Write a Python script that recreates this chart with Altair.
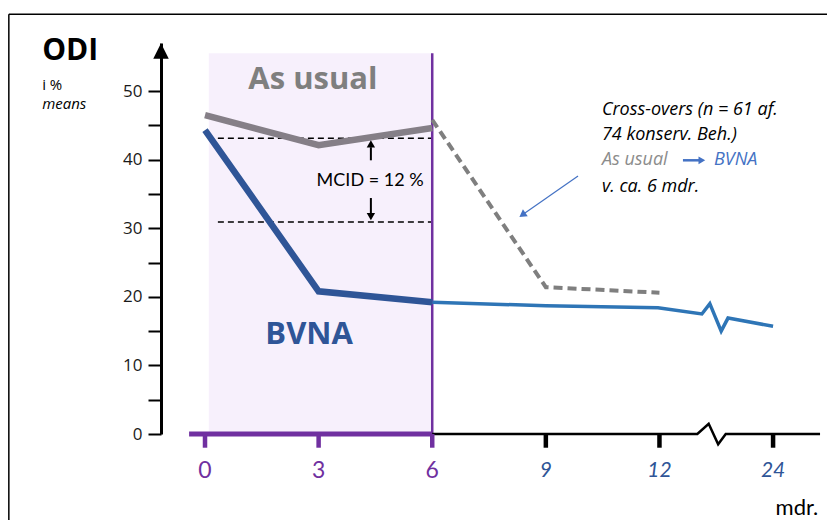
import altair as alt
import pandas as pd

# ---------------- data ----------------
usual_x = [0, 3, 6]
usual_y = [46.5, 42.1, 44.6]
cross_x = [6, 9, 12]
cross_y = [45.8, 21.4, 20.6]
bvna_x = [0, 3, 6]
bvna_y = [44.3, 20.8, 19.2]
follow_x = [6, 9, 11.96, 13.12, 13.33, 13.63, 13.81, 15]
follow_y = [19.2, 18.7, 18.4, 17.5, 19.0, 15.0, 16.9, 15.7]
tick_pos = [0, 3, 6, 9, 12, 15]
tick_labels = ["0", "3", "6", "9", "12", "24"]
y_tick_values = [0, 5, 10, 15, 20, 25, 30, 35, 40, 45, 50]
mcid_levels = [43.1, 30.9]
axis_break_x = [6, 13.0, 13.3, 13.55, 13.75, 16.24]
axis_break_y = [0, 0, 1.5, -1.5, 0, 0]
cross_lines = ["Cross-overs (n = 61 af.", "74 konserv. Beh.)", "", "v. ca. 6 mdr."]
cross_line_y = [47.2, 43.6, 39.9, 36.0]

# ---------------- styling ----------------
XMIN, XMAX = -1.162, 16.424
YMIN, YMAX = 0, 57
PURPLE = "#7030A0"
GRAY = "#857F87"
DBLUE = "#2F5597"
MBLUE = "#2E75B6"
LBLUE = "#4472C4"
FONT = "Lato"
SANS = "Open Sans"

xs = alt.Scale(domain=[XMIN, XMAX], nice=False, zero=False)
ys = alt.Scale(domain=[YMIN, YMAX], nice=False, zero=False)
yaxis = alt.Axis(values=y_tick_values, title=None, grid=False,
                 labelExpr="datum.value % 10 === 0 ? datum.label : ''",
                 domainColor="black", domainWidth=3, tickColor="black",
                 tickWidth=2, tickSize=13, labelFontSize=17, labelFont=SANS,
                 labelColor="#1a1a1a", labelPadding=6)


def X(f):
    return alt.X(f, type="quantitative", scale=xs, axis=None)


def Y(f):
    return alt.Y(f, type="quantitative", scale=ys, axis=yaxis)


def line_df(xv, yv):
    return pd.DataFrame({"x": xv, "y": yv, "i": list(range(len(xv)))})


layers = []

# shaded band (0..6 months)
shade = pd.DataFrame({"x": [0.1], "x2": [6], "y": [0], "y2": [55.5]})
layers.append(alt.Chart(shade).mark_rect(color="#F7F0FC").encode(
    x=X("x"), x2="x2", y=Y("y"), y2="y2"))

# MCID dashed reference lines
mc = pd.DataFrame({"x": [0.34] * 2, "x2": [6] * 2, "y": mcid_levels})
layers.append(alt.Chart(mc).mark_rule(color="black", strokeWidth=1.5, strokeDash=[6, 4]).encode(
    x=X("x"), x2="x2", y=Y("y")))

# purple vertical line at 6 months
pv = pd.DataFrame({"x": [6], "y": [0], "y2": [55.5]})
layers.append(alt.Chart(pv).mark_rule(color=PURPLE, strokeWidth=2.5).encode(
    x=X("x"), y=Y("y"), y2="y2"))

# data lines
layers.append(alt.Chart(line_df(cross_x, cross_y)).mark_line(
    color="#7F7F7F", strokeWidth=4, strokeDash=[9, 5]).encode(x=X("x"), y=Y("y"), order="i"))
layers.append(alt.Chart(line_df(follow_x, follow_y)).mark_line(
    color=MBLUE, strokeWidth=3.5).encode(x=X("x"), y=Y("y"), order="i"))
layers.append(alt.Chart(line_df(usual_x, usual_y)).mark_line(
    color=GRAY, strokeWidth=6.5).encode(x=X("x"), y=Y("y"), order="i"))
layers.append(alt.Chart(line_df(bvna_x, bvna_y)).mark_line(
    color=DBLUE, strokeWidth=6.5).encode(x=X("x"), y=Y("y"), order="i"))

# x axis: purple part and black part with break
pa = pd.DataFrame({"x": [-0.42], "x2": [6], "y": [0]})
layers.append(alt.Chart(pa).mark_rule(color=PURPLE, strokeWidth=5).encode(
    x=X("x"), x2="x2", y=Y("y")))
layers.append(alt.Chart(line_df(axis_break_x, axis_break_y)).mark_line(
    color="black", strokeWidth=2.5).encode(x=X("x"), y=Y("y"), order="i"))

# x ticks
tk = pd.DataFrame({"x": tick_pos, "y": [0] * 6, "y2": [-2.0] * 6,
                   "c": [PURPLE] * 3 + ["black"] * 3})
layers.append(alt.Chart(tk).mark_rule(strokeWidth=4.5).encode(
    x=X("x"), y=Y("y"), y2="y2", color=alt.Color("c:N", scale=None)))

# x tick labels
lab = pd.DataFrame({"x": tick_pos, "y": [-5.4] * 6, "t": tick_labels})
layers.append(alt.Chart(lab.iloc[:3]).mark_text(
    color=PURPLE, fontSize=23, font=FONT, baseline="middle").encode(x=X("x"), y=Y("y"), text="t"))
layers.append(alt.Chart(lab.iloc[3:]).mark_text(
    color=DBLUE, fontSize=21, font=FONT, fontStyle="italic", baseline="middle").encode(
    x=X("x"), y=Y("y"), text="t"))

# y axis arrow head
ah = pd.DataFrame({"x": [XMIN], "y": [55.85]})
layers.append(alt.Chart(ah).mark_point(shape="M-1,1L1,1L0,-1Z", size=240, filled=True,
                                       color="black", opacity=1).encode(x=X("x"), y=Y("y")))


def text_layer(x, y, t, **kw):
    d = pd.DataFrame({"x": [x], "y": [y], "t": [t]})
    return alt.Chart(d).mark_text(baseline="middle", **kw).encode(x=X("x"), y=Y("y"), text="t")


# left titles
layers.append(text_layer(-4.30, 55.8, "ODI", align="left", font=SANS,
                         fontSize=30, fontWeight="bold", color="black"))
layers.append(text_layer(-4.30, 50.9, "i %", align="left", font=SANS,
                         fontSize=15, color="black"))
layers.append(text_layer(-4.30, 48.1, "means", align="left", font=SANS,
                         fontSize=15, fontStyle="italic", color="black"))

# big labels
layers.append(text_layer(2.85, 51.6, "As usual", font=SANS, fontSize=31,
                         fontWeight="bold", color="#7F7F7F"))
layers.append(text_layer(2.75, 14.4, "BVNA", font=SANS, fontSize=31,
                         fontWeight="bold", color=DBLUE))

# MCID
layers.append(text_layer(4.36, 36.9, "MCID = 12 %", font=FONT, fontSize=18, color="black"))
ar = pd.DataFrame({"x": [4.38, 4.38], "y": [39.9, 34.4], "y2": [41.8, 32.2]})
layers.append(alt.Chart(ar).mark_rule(color="black", strokeWidth=2).encode(
    x=X("x"), y=Y("y"), y2="y2"))
heads = pd.DataFrame({"x": [4.38, 4.38], "y": [42.3, 31.7], "s": ["triangle-up", "triangle-down"]})
layers.append(alt.Chart(heads).mark_point(filled=True, color="black", opacity=1, size=70).encode(
    x=X("x"), y=Y("y"), shape=alt.Shape("s:N", scale=None)))

# x-axis unit
layers.append(text_layer(15.63, -10.8, "mdr.", font=FONT, fontSize=22, color="black"))

# cross-over annotation
cr = pd.DataFrame({"x": [10.48] * 4, "y": cross_line_y, "t": cross_lines})
layers.append(alt.Chart(cr).mark_text(align="left", baseline="middle", font=SANS, fontSize=18,
                                      fontStyle="italic", color="black").encode(
    x=X("x"), y=Y("y"), text="t"))
layers.append(text_layer(10.48, 39.9, "As usual", align="left", font=SANS, fontSize=18,
                         fontStyle="italic", color="#8C8C8C"))
layers.append(text_layer(13.44, 39.9, "BVNA", align="left", font=SANS, fontSize=18,
                         fontStyle="italic", color=LBLUE))
sa = pd.DataFrame({"x": [12.62], "x2": [13.05], "y": [39.9]})
layers.append(alt.Chart(sa).mark_rule(color=LBLUE, strokeWidth=2.5).encode(
    x=X("x"), x2="x2", y=Y("y")))
sh = pd.DataFrame({"x": [13.12], "y": [39.9]})
layers.append(alt.Chart(sh).mark_point(shape="triangle-right", filled=True, color=LBLUE,
                                       opacity=1, size=60).encode(x=X("x"), y=Y("y")))

# pointer arrow to cross-over line
pt = pd.DataFrame({"x": [9.85], "x2": [8.42], "y": [37.6], "y2": [32.1]})
layers.append(alt.Chart(pt).mark_rule(color=LBLUE, strokeWidth=1.2).encode(
    x=X("x"), x2="x2", y=Y("y"), y2="y2"))
ph = pd.DataFrame({"x": [8.38], "y": [31.95]})
layers.append(alt.Chart(ph).mark_point(shape="triangle-up", angle=235, filled=True, color=LBLUE,
                                       opacity=1, size=70).encode(x=X("x"), y=Y("y")))

# frame
fr = pd.DataFrame({"x": [-5.18], "x2": [16.7], "y": [61.2]})
layers.append(alt.Chart(fr).mark_rule(color="black", strokeWidth=1.5).encode(
    x=X("x"), x2="x2", y=Y("y")))
fl = pd.DataFrame({"x": [-5.18], "y": [61.2], "y2": [-14]})
layers.append(alt.Chart(fl).mark_rule(color="black", strokeWidth=1.5).encode(
    x=X("x"), y=Y("y"), y2="y2"))

chart = alt.layer(*layers).properties(
    width=666, height=391,
    autosize=alt.AutoSizeParams(type="none"),
    padding={"left": 153, "top": 35, "right": 0, "bottom": 86},
).configure_view(stroke=None, clip=False)

chart.save("out.html", embed_options={"renderer": "svg", "actions": False})
